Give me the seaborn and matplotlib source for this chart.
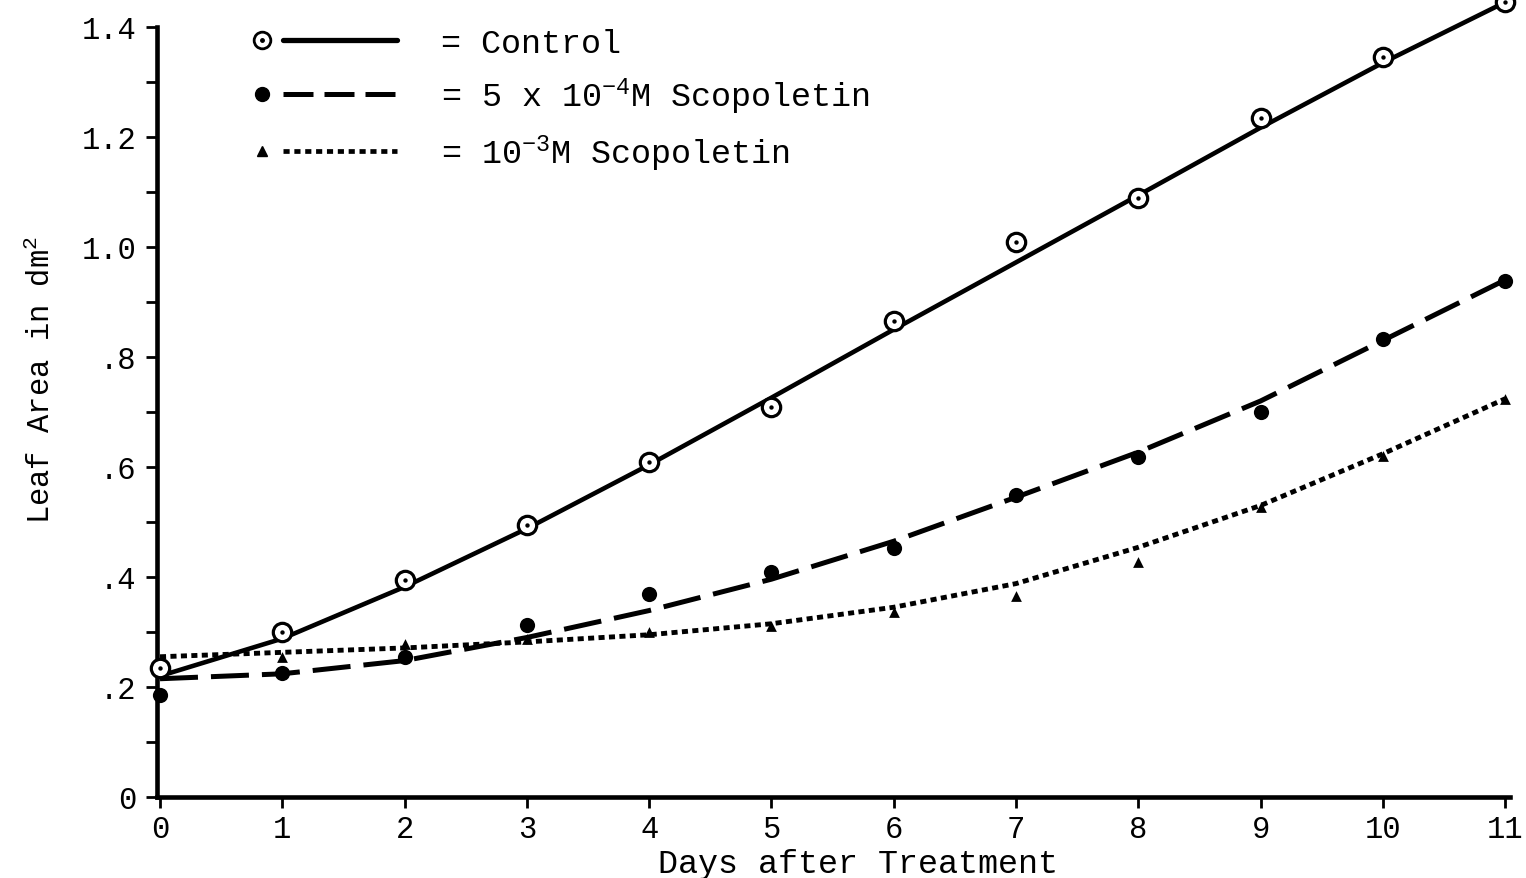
import matplotlib
matplotlib.use("Agg")
import matplotlib.pyplot as plt
from matplotlib.lines import Line2D
from matplotlib.legend_handler import HandlerBase
from matplotlib.ticker import FixedLocator, MultipleLocator
import numpy as np
import pandas as pd
import seaborn as sns

# ---- data: leaf area (dm^2) by days after treatment ----
days = list(range(12))
control_area = [0.235, 0.30, 0.395, 0.495, 0.61, 0.71, 0.865, 1.01, 1.09, 1.235, 1.345, 1.445]
scop5_area = [0.185, 0.225, 0.255, 0.313, 0.37, 0.41, 0.452, 0.55, 0.618, 0.70, 0.833, 0.938]
scop10_days = list(range(1, 12))
scop10_area = [0.255, 0.278, 0.288, 0.30, 0.311, 0.336, 0.366, 0.427, 0.527, 0.62, 0.724]

# smoothed growth curves drawn through each treatment
control_curve = [0.22, 0.288, 0.382, 0.488, 0.604, 0.726, 0.85, 0.972, 1.094, 1.217, 1.335, 1.445]
scop5_curve = [0.215, 0.224, 0.248, 0.29, 0.339, 0.396, 0.465, 0.545, 0.627, 0.72, 0.83, 0.94]
scop10_curve = [0.255, 0.263, 0.271, 0.282, 0.295, 0.315, 0.345, 0.388, 0.454, 0.53, 0.624, 0.724]

series_names = ["Control", "5e-4 M", "1e-3 M"]
legend_labels = ["= Control",
                 "= 5 x 10$^{-4}$M Scopoletin",
                 "= 10$^{-3}$M Scopoletin"]
y_ticks = [0, 0.2, 0.4, 0.6, 0.8, 1.0, 1.2, 1.4]
y_tick_labels = ["0", ".2", ".4", ".6", ".8", "1.0", "1.2", "1.4"]

curves = pd.DataFrame({
    "day": days * 3,
    "area": control_curve + scop5_curve + scop10_curve,
    "series": sum([[n] * len(days) for n in series_names], []),
})

sns.set_theme(style="ticks")
plt.rcParams["font.family"] = ["Liberation Mono", "DejaVu Sans"]
plt.rcParams.update({
    "mathtext.fontset": "custom",
    "mathtext.rm": "Liberation Mono",
    "mathtext.it": "Liberation Mono",
    "mathtext.bf": "Liberation Mono",
})

W, H = 1526, 879
fig = plt.figure(figsize=(W / 100, H / 100), dpi=100)
ax = fig.add_axes([157 / W, 81 / H, (1510 - 157) / W, 797.5 / H])

line_styles = {"Control": "-", "5e-4 M": (0, (7.6, 2.6)), "1e-3 M": (0, (1.25, 0.9))}
line_widths = {"Control": 3.3, "5e-4 M": 3.6, "1e-3 M": 3.5}
for name in series_names:
    sns.lineplot(data=curves[curves["series"] == name], x="day", y="area",
                 color="black", lw=line_widths[name], linestyle=line_styles[name],
                 legend=False, ax=ax, clip_on=False, zorder=2)

# control: open circle with a centre dot
sns.scatterplot(x=days, y=control_area, marker="o", s=175, facecolor="white",
                edgecolor="black", linewidth=2.3, ax=ax, clip_on=False, zorder=3)
sns.scatterplot(x=days, y=control_area, marker="o", s=10, color="black",
                linewidth=0, ax=ax, clip_on=False, zorder=4)
# 5 x 10^-4 M: filled circle
sns.scatterplot(x=days, y=scop5_area, marker="o", s=120, color="black",
                linewidth=0, ax=ax, clip_on=False, zorder=3)
# 10^-3 M: small filled triangle
sns.scatterplot(x=scop10_days, y=scop10_area, marker="^", s=60, color="black",
                linewidth=0, ax=ax, clip_on=False, zorder=3)

ax.set_xlim(-0.0245, 11.04)
ax.set_ylim(0, 1.45)
ax.spines["left"].set_bounds(0, 1.4)
for side in ("right", "top"):
    ax.spines[side].set_visible(False)
for side in ("left", "bottom"):
    ax.spines[side].set_linewidth(3.3)
    ax.spines[side].set_color("black")

ax.set_xticks(days)
ax.set_xticklabels([str(d) for d in days])
ax.yaxis.set_major_locator(FixedLocator(y_ticks))
ax.set_yticklabels(y_tick_labels)
ax.yaxis.set_minor_locator(MultipleLocator(0.1))
ax.tick_params(axis="both", which="both", direction="out", length=8, width=2,
               color="black", labelcolor="black", labelsize=22)
ax.tick_params(axis="y", pad=7)
ax.tick_params(axis="x", pad=4)

ax.set_xlabel("Days after Treatment", fontsize=24, color="black")
ax.xaxis.set_label_coords(0.518, -0.064)
ax.set_ylabel("Leaf Area in dm$^2$", fontsize=22, color="black")
ax.yaxis.set_label_coords(-0.074, 0.524)


class MarkerThenLine(HandlerBase):
    """Legend key: the symbol on the left, the line sample to its right."""

    def create_artists(self, legend, orig_handle, xdescent, ydescent,
                       width, height, fontsize, trans):
        marks, line = orig_handle
        y = height / 2 - ydescent
        x0 = -xdescent
        arts = []
        for m in marks:
            a = Line2D([x0 + 0.055 * width], [y])
            a.update_from(m)
            a.set_transform(trans)
            arts.append(a)
        seg = Line2D([x0 + 0.20 * width, x0 + width], [y, y])
        seg.update_from(line)
        seg.set_transform(trans)
        arts.append(seg)
        return arts


handles = [
    ((Line2D([], [], marker="o", ms=12, mfc="white", mec="black", mew=2.0, ls=""),
      Line2D([], [], marker="o", ms=2.5, color="black", ls="")),
     Line2D([], [], color="black", lw=3.8, ls="-")),
    ((Line2D([], [], marker="o", ms=10, color="black", ls=""),),
     Line2D([], [], color="black", lw=3.6, ls=(0, (6.0, 2.2)))),
    ((Line2D([], [], marker="^", ms=7, color="black", ls=""),),
     Line2D([], [], color="black", lw=3.4, ls=(0, (1.3, 1.0)))),
]
ax.legend(handles, legend_labels, handler_map={tuple: MarkerThenLine()},
          loc="upper left", bbox_to_anchor=(0.0717, 0.9645), frameon=False,
          borderpad=0, borderaxespad=0, fontsize=24, handlelength=4.3,
          handletextpad=1.3, labelspacing=0.5, labelcolor="black")

fig.savefig("out.png", dpi=100, facecolor="white")
